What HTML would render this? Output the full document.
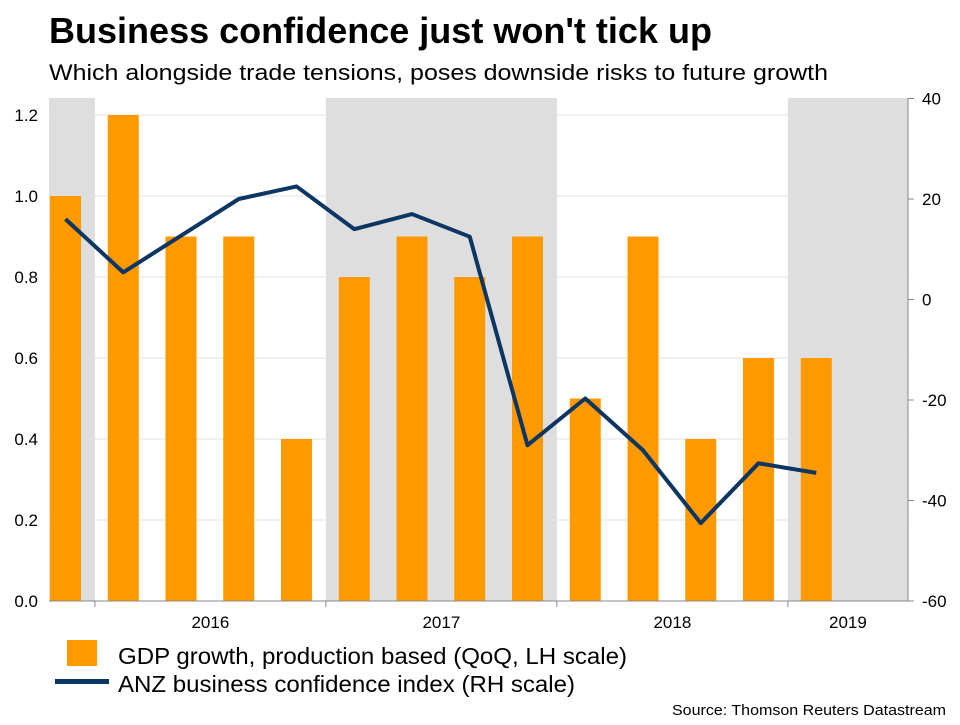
<!DOCTYPE html>
<html><head><meta charset="utf-8"><style>
body{margin:0;background:#fff;width:960px;height:720px;overflow:hidden;font-family:"Liberation Sans",Arial,sans-serif}
</style></head><body>
<svg width="960" height="720" font-family="Liberation Sans, Arial, sans-serif">
<text x="49" y="43" font-size="36" font-weight="bold" fill="#000" textLength="663" lengthAdjust="spacingAndGlyphs">Business confidence just won't tick up</text>
<text x="49" y="80" font-size="22" fill="#000" textLength="779" lengthAdjust="spacingAndGlyphs">Which alongside trade tensions, poses downside risks to future growth</text>
<g id="shade"></g><g id="grid"></g><g id="bars"></g><g id="line"></g><g id="axes"></g>
<g>
<rect x="67" y="640" width="30" height="26" fill="#FF9900"/>
<text x="118" y="664" font-size="23" textLength="509" lengthAdjust="spacingAndGlyphs">GDP growth, production based (QoQ, LH scale)</text>
<rect x="55" y="679" width="54" height="5" fill="#0B3563"/>
<text x="118" y="692" font-size="23" textLength="457" lengthAdjust="spacingAndGlyphs">ANZ business confidence index (RH scale)</text>
</g>
<text x="672" y="715" font-size="15" textLength="274" lengthAdjust="spacingAndGlyphs">Source: Thomson Reuters Datastream</text>
</svg>
<script>
const gdp=[1.0,1.2,0.9,0.9,0.4,0.8,0.9,0.8,0.9,0.5,0.9,0.4,0.6,0.6];
const anz=[16,5.4,12.7,20,22.5,14,17,12.5,-29,-19.7,-30,-44.5,-32.6,-34.5];
const leftTicks=[0,0.2,0.4,0.6,0.8,1.0,1.2];
const rightTicks=[-60,-40,-20,0,20,40];
const years=["2016","2017","2018","2019"];
const yearStart=[1,5,9,13];
const shadeRanges=[[-1,1],[5,9],[13,16]];
const X0=49,X1=908,Y0=601,STEP=57.75,FIRST=65.5;
const xC=i=>FIRST+i*STEP;
const xB=i=>xC(i)-STEP/2+0.5;
const yL=v=>Y0-v*405;
const yR=v=>Y0-(v+60)*5.025;
const ns="http://www.w3.org/2000/svg";
function mk(p,t,a){const e=document.createElementNS(ns,t);for(const k in a)e.setAttribute(k,a[k]);document.getElementById(p).appendChild(e);return e;}
shadeRanges.forEach(r=>{const a=Math.max(X0,xB(r[0])),b=Math.min(X1,xB(r[1]));
const e=mk('shade','rect',{x:a,y:98,width:b-a,height:Y0-98,fill:'#DEDEDE'});

});
leftTicks.forEach(v=>{const y=yL(v);
const g=mk('grid','line',{x1:X0,x2:X1,y1:y,y2:y,stroke:'#E2E2E2','stroke-width':1});


const t=mk('axes','text',{x:38,y:y+6,'font-size':17,'text-anchor':'end'});t.textContent=v.toFixed(1);

});
rightTicks.forEach(v=>{const y=yR(v);
mk('axes','line',{x1:X1,x2:X1+6,y1:y,y2:y,stroke:'#888'});
const t=mk('axes','text',{x:922,y:y+6,'font-size':17});t.textContent=v;

});
gdp.forEach((v,i)=>{const e=mk('bars','rect',{x:xC(i)-15.5,y:yL(v),width:31,height:Y0-yL(v),fill:'#FF9900'});

});
const p=mk('line','polyline',{points:anz.map((v,i)=>xC(i)+','+yR(v)).join(' '),fill:'none',stroke:'#0B3563','stroke-width':4,'stroke-linejoin':'round'});


mk('axes','line',{x1:X0,x2:X1,y1:Y0,y2:Y0,stroke:'#888'});
mk('axes','line',{x1:X1,x2:X1,y1:98,y2:Y0,stroke:'#888'});
years.forEach((y,k)=>{const a=xB(yearStart[k]);
mk('axes','line',{x1:a,x2:a,y1:Y0,y2:Y0+6,stroke:'#888'});
const b=Math.min(X1,xB(yearStart[k]+4));
const t=mk('axes','text',{x:(a+b)/2,y:628,'font-size':17,'text-anchor':'middle'});t.textContent=y;

});
</script>
</body></html>
